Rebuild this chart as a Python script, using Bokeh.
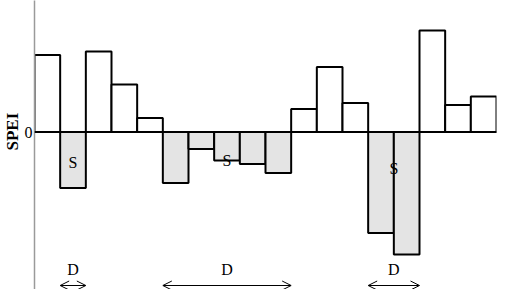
from bokeh.plotting import figure
from bokeh.models import Range1d, ColumnDataSource, Arrow, OpenHead, Span, Title
from bokeh.core.properties import value
from bokeh.embed import file_html
from bokeh.resources import INLINE

# SPEI series (18 periods)
spei = [1.54, -1.12, 1.61, 0.95, 0.28, -1.02, -0.34, -0.57, -0.64, -0.82,
        0.46, 1.30, 0.58, -2.02, -2.45, 2.03, 0.54, 0.71]
idx = list(range(len(spei)))

# drought events (start / end index), severity label positions
drought_start = [1, 5, 13]
drought_end = [1, 9, 14]
s_label_y = [-0.60, -0.57, -0.73]
d_label_y = -2.75
arrow_y = -3.07

FONT = "Liberation Serif"

p = figure(width=497, height=289, output_backend="svg", toolbar_location=None,
           x_range=Range1d(-0.5, len(spei) - 0.5), y_range=Range1d(-3.15, 2.63),
           min_border_left=0, min_border_right=1, min_border_top=0, min_border_bottom=0)
p.outline_line_color = None
p.xaxis.visible = False
p.grid.visible = False
p.background_fill_color = "white"
p.border_fill_color = "white"

src_pos = ColumnDataSource(dict(x=[i for i, v in zip(idx, spei) if v > 0],
                                top=[v for v in spei if v > 0]))
src_neg = ColumnDataSource(dict(x=[i for i, v in zip(idx, spei) if v < 0],
                                top=[v for v in spei if v < 0]))
p.vbar(x="x", top="top", bottom=0, width=1, source=src_pos,
       fill_color="white", line_color="black", line_width=2)
p.vbar(x="x", top="top", bottom=0, width=1, source=src_neg,
       fill_color="#e4e4e4", line_color="black", line_width=2)

p.add_layout(Span(location=0, dimension="width", line_color="black", line_width=2))

# S labels
s_x = [(a + b) / 2 for a, b in zip(drought_start, drought_end)]
p.text(x=s_x, y=s_label_y, text=["S"] * len(s_x), text_font=value(FONT),
       text_font_size="16px", text_align="center", text_baseline="middle", text_color="black")

# D labels and duration arrows
p.text(x=s_x, y=[d_label_y] * len(s_x), text=["D"] * len(s_x), text_font=value(FONT),
       text_font_size="16px", text_align="center", text_baseline="middle", text_color="black")
for a, b in zip(drought_start, drought_end):
    p.add_layout(Arrow(start=OpenHead(size=9, line_width=1), end=OpenHead(size=9, line_width=1),
                       x_start=a - 0.5, x_end=b + 0.5, y_start=arrow_y, y_end=arrow_y,
                       line_width=1, line_color="black"))

ax = p.yaxis[0]
ax.ticker = [0]
ax.major_label_overrides = {0: "0"}
ax.major_tick_line_color = None
ax.minor_tick_line_color = None
ax.major_tick_out = 0
ax.major_tick_in = 0
ax.axis_line_color = "#9a9a9a"
ax.axis_line_width = 1.5
ax.major_label_text_font = FONT
ax.major_label_text_font_size = "16px"
ax.major_label_text_color = "black"
ax.major_label_standoff = 2

p.add_layout(Title(text="SPEI", align="left", offset=139, standoff=0,
                   text_font=FONT, text_font_style="bold", text_font_size="17px",
                   text_color="black"), "left")

open("out.html", "w").write(file_html(p, INLINE))
